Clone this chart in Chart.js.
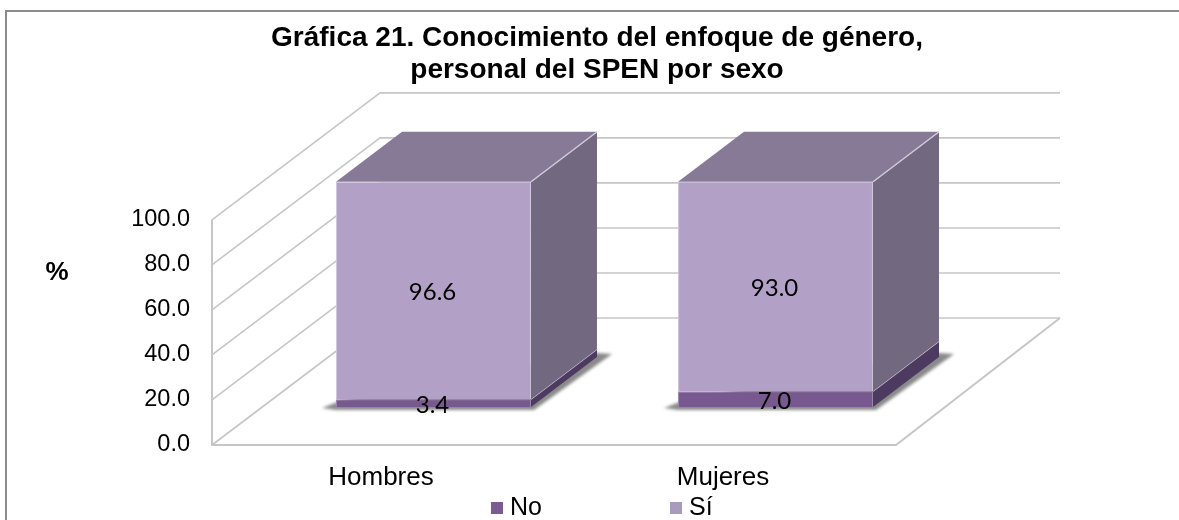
<!DOCTYPE html>
<html lang="es">
<head>
<meta charset="utf-8">
<title>Gráfica 21</title>
<script src="https://cdn.jsdelivr.net/npm/chart.js@4"></script>
<style>
html,body{margin:0;padding:0;background:#fff;}
#wrap{position:relative;width:1179px;height:520px;overflow:hidden;}
canvas{display:block;}
</style>
</head>
<body>
<div id="wrap"><canvas id="c" width="1179" height="520"></canvas></div>
<script>
const categories = ['Hombres', 'Mujeres'];
const seriesNames = ['No', 'Sí'];
const noValues = [3.4, 7.0];
const siValues = [96.6, 93.0];
const titleLines = ['Gráfica 21. Conocimiento del enfoque de género,', 'personal del SPEN por sexo'];
const yUnit = '%';

const SANS = '"Liberation Sans", Arial, sans-serif';
const GRID = '#c6c6c6';
const faceColors = ['#77588F', '#B2A0C7'];
const sideColors = ['#4D3A61', '#726880'];
const topColor = '#867A96';
const legendColors = ['#7A5C93', '#A99BBD'];
const WALL = {dx: 168, dy: -127, floorDx: 164, backRight: 1060};
const BAR = {dx: 66, dy: -50, shiftX: 50.5, shiftY: -38};

const scene = {
  id: 'scene',
  beforeDatasetsDraw(chart) {
    const {ctx, chartArea: a, scales: {y}} = chart;
    ctx.save();
    // frame (left and top edges only)
    ctx.strokeStyle = '#8c8c8c'; ctx.lineWidth = 2;
    ctx.beginPath(); ctx.moveTo(6, 520); ctx.lineTo(6, 11); ctx.lineTo(1179, 11); ctx.stroke();
    // walls
    ctx.strokeStyle = GRID; ctx.lineWidth = 1.6; ctx.lineJoin = 'round';
    y.ticks.forEach(t => {
      const py = y.getPixelForValue(t.value);
      ctx.beginPath();
      ctx.moveTo(a.left, py);
      ctx.lineTo(a.left + WALL.dx, py + WALL.dy);
      ctx.lineTo(WALL.backRight, py + WALL.dy);
      ctx.stroke();
    });
    ctx.lineWidth = 2;
    ctx.beginPath();
    ctx.moveTo(a.left, y.getPixelForValue(100));
    ctx.lineTo(a.left, a.bottom);
    ctx.lineTo(a.right, a.bottom);
    ctx.lineTo(a.right + WALL.floorDx, a.bottom + WALL.dy);
    ctx.stroke();
    ctx.restore();

    // bars: shift the whole block onto the floor, then draw shadow, sides and top
    ctx.save();
    ctx.translate(BAR.shiftX, BAR.shiftY);
    const metas = [chart.getDatasetMeta(0), chart.getDatasetMeta(1)];
    metas[0].data.forEach((bar, i) => {
      const L = bar.x - bar.width / 2, R = bar.x + bar.width / 2, B = bar.base;
      ctx.save();
      ctx.filter = 'blur(1.5px)';
      ctx.fillStyle = '#8a8a8a';
      ctx.beginPath();
      ctx.moveTo(L - 14, B + 1);
      ctx.lineTo(L + 4, B - 6);
      ctx.lineTo(R + BAR.dx, B + BAR.dy - 4);
      ctx.lineTo(R + BAR.dx + 15, B + BAR.dy - 3);
      ctx.lineTo(R + 3, B + 3);
      ctx.lineTo(L, B + 3);
      ctx.closePath();
      ctx.fill();
      ctx.restore();
    });
    metas.forEach((meta, d) => meta.data.forEach(bar => {
      const R = bar.x + bar.width / 2;
      const yTop = bar.y, yBase = bar.base;
      ctx.fillStyle = sideColors[d];
      ctx.beginPath();
      ctx.moveTo(R, yBase);
      ctx.lineTo(R + BAR.dx, yBase + BAR.dy);
      ctx.lineTo(R + BAR.dx, yTop + BAR.dy);
      ctx.lineTo(R, yTop);
      ctx.closePath();
      ctx.fill();
      ctx.strokeStyle = '#cfc8da'; ctx.lineWidth = 1.2;
      ctx.beginPath();
      ctx.moveTo(R, yTop);
      ctx.lineTo(R + BAR.dx, yTop + BAR.dy);
      ctx.stroke();
    }));
    metas[1].data.forEach(bar => {
      const L = bar.x - bar.width / 2, R = bar.x + bar.width / 2, T = bar.y;
      ctx.fillStyle = topColor;
      ctx.beginPath();
      ctx.moveTo(L, T);
      ctx.lineTo(L + BAR.dx, T + BAR.dy);
      ctx.lineTo(R + BAR.dx, T + BAR.dy);
      ctx.lineTo(R, T);
      ctx.closePath();
      ctx.fill();
      ctx.strokeStyle = '#cfc8da'; ctx.lineWidth = 1.2;
      ctx.beginPath();
      ctx.moveTo(R, T);
      ctx.lineTo(R + BAR.dx, T + BAR.dy);
      ctx.stroke();
    });
  },
  afterDatasetsDraw(chart) {
    const {ctx} = chart;
    // value labels, still in the shifted space
    ctx.fillStyle = '#000';
    ctx.font = '24px Lato, sans-serif';
    ctx.textAlign = 'center';
    ctx.textBaseline = 'middle';
    chart.data.datasets.forEach((ds, d) => {
      chart.getDatasetMeta(d).data.forEach((bar, i) => {
        const c = bar.getCenterPoint();
        ctx.fillText(ds.data[i].toFixed(1), c.x - 1, c.y + 2);
      });
    });
    ctx.restore();

    // unit label
    ctx.save();
    ctx.fillStyle = '#000';
    ctx.font = 'bold 26px ' + SANS;
    ctx.textAlign = 'center';
    ctx.textBaseline = 'middle';
    ctx.fillText(yUnit, 57, 273);

    // legend
    const lx = [491, 670];
    ctx.font = '25px ' + SANS;
    ctx.textAlign = 'left';
    chart.data.datasets.forEach((ds, d) => {
      ctx.fillStyle = legendColors[d];
      ctx.fillRect(lx[d], 502, 12, 12);
      ctx.fillStyle = '#000';
      ctx.fillText(ds.label, lx[d] + 19, 508);
    });
    ctx.restore();
  }
};

new Chart(document.getElementById('c'), {
  type: 'bar',
  data: {
    labels: categories,
    datasets: [
      {label: seriesNames[0], data: noValues, backgroundColor: faceColors[0], borderColor: '#9a86ad', borderWidth: 1, clip: false, barPercentage: 0.57, categoryPercentage: 1},
      {label: seriesNames[1], data: siValues, backgroundColor: faceColors[1], borderColor: '#cfc5dc', borderWidth: 1, clip: false, barPercentage: 0.57, categoryPercentage: 1}
    ]
  },
  options: {
    responsive: false,
    animation: false,
    layout: {padding: {left: 15, right: 0, top: 0, bottom: 0}},
    plugins: {
      legend: {display: false},
      tooltip: {enabled: false},
      title: {
        display: true,
        text: titleLines,
        color: '#000',
        font: {family: SANS, size: 28, weight: 'bold', lineHeight: 1.14},
        padding: {top: 22, bottom: 134}
      }
    },
    scales: {
      x: {
        stacked: true,
        grid: {display: false, drawTicks: false},
        border: {display: false},
        ticks: {color: '#000', font: {family: SANS, size: 26}, padding: 17, labelOffset: -2, maxRotation: 0},
        afterFit(s) { s.height = 75; }
      },
      y: {
        stacked: true,
        min: 0, max: 100,
        grid: {display: false, drawTicks: false},
        border: {display: false},
        ticks: {stepSize: 20, color: '#000', font: {family: SANS, size: 23.5}, padding: 22, callback: v => v.toFixed(1)},
        afterFit(s) { s.width = 197; }
      },
      yRight: {
        position: 'right',
        display: true,
        grid: {display: false, drawTicks: false},
        border: {display: false},
        ticks: {display: false},
        afterFit(s) { s.width = 283; }
      }
    }
  },
  plugins: [scene]
});
</script>
</body>
</html>
